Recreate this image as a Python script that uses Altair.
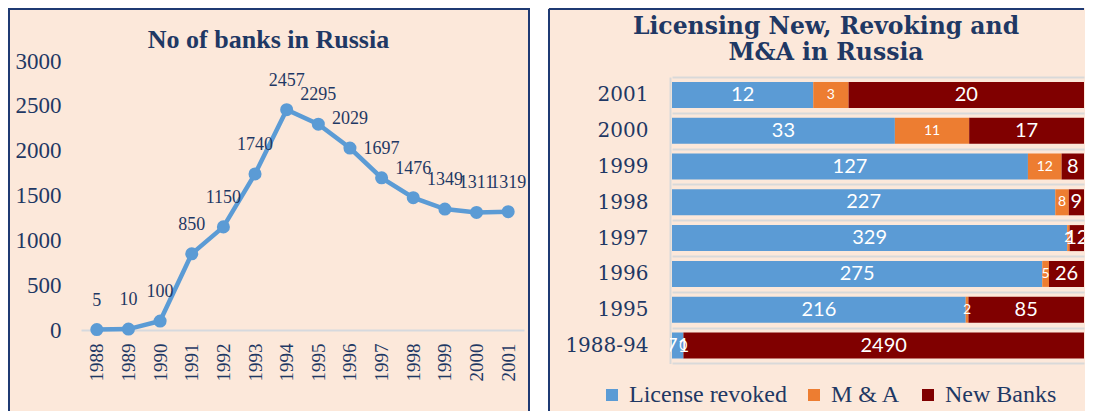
import altair as alt
import pandas as pd

# ---------------- data ----------------
years = ['1988', '1989', '1990', '1991', '1992', '1993', '1994',
         '1995', '1996', '1997', '1998', '1999', '2000', '2001']
banks = [5, 10, 100, 850, 1150, 1740, 2457, 2295, 2029, 1697, 1476, 1349, 1311, 1319]
y_ticks_left = [0, 500, 1000, 1500, 2000, 2500, 3000]

periods = ['2001', '2000', '1999', '1998', '1997', '1996', '1995', '1988-94']
revoked = [12, 33, 127, 227, 329, 275, 216, 71]
mna = [3, 11, 12, 8, 2, 5, 2, 0]
new_banks = [20, 17, 8, 9, 12, 26, 85, 2490]
series = ['License revoked', 'M & A', 'New Banks']
series_colors = ['#5B9BD5', '#ED7D31', '#800000']

title_left = 'No of banks in Russia'
title_right = ['Licensing New, Revoking and', 'M&A in Russia']

# ---------------- style ----------------
PEACH = '#FCE8DA'
NAVY = '#1F3864'
BORDER = '#1F3A73'
GRID = '#D9D9D9'
LINE = '#5B9BD5'

df_line = pd.DataFrame({'year': years, 'banks': banks})
rows = []
for i, p in enumerate(periods):
    for j, vals in enumerate([revoked, mna, new_banks]):
        rows.append({'period': p, 'series': series[j], 'order': j, 'value': vals[i]})
df_bar = pd.DataFrame(rows)
one = pd.DataFrame({'k': [0]})

# ---------------- left panel ----------------
LW, LH = 443, 269

base_l = alt.Chart(df_line).encode(
    x=alt.X('year:O', sort=years, scale=alt.Scale(type='point', padding=0.5),
            axis=alt.Axis(title=None, labelAngle=270, labelFont='Liberation Serif',
                          labelFontSize=19, labelColor=NAVY, labelPadding=13,
                          ticks=False, tickSize=0, domainColor='#D6D9DE', domainWidth=2,
                          grid=False, labelOverlap=False)),
    y=alt.Y('banks:Q', scale=alt.Scale(domain=[0, 3000], nice=False),
            axis=alt.Axis(title=None, values=y_ticks_left, format='d',
                          labelFont='Liberation Serif',
                          labelFontSize=23, labelColor=NAVY, labelPadding=20,
                          ticks=False, tickSize=0, domain=False, grid=False)),
)
line = base_l.mark_line(color=LINE, strokeWidth=4.5)
pts = base_l.mark_circle(color=LINE, size=170, opacity=1)
lbl = base_l.mark_text(font='Liberation Serif', fontSize=18, color=NAVY,
                       baseline='middle', dy=-29).encode(text='banks:Q')

gap = alt.Chart(one).mark_rect(fill='white').encode(
    x=alt.value(449), x2=alt.value(467), y=alt.value(-53), y2=alt.value(370))
border_l = alt.Chart(one).mark_rect(fillOpacity=0, stroke=BORDER, strokeWidth=2).encode(
    x=alt.value(-72), x2=alt.value(448), y=alt.value(-52), y2=alt.value(369))
ttl_l = alt.Chart(one).mark_text(font='Liberation Serif', fontSize=26, fontWeight='bold',
                                 color=NAVY, baseline='middle', align='center').encode(
    x=alt.value(187.5), y=alt.value(-21), text=alt.value(title_left))

left = alt.layer(gap, line, pts, lbl, border_l, ttl_l).properties(width=LW, height=LH)

# ---------------- right panel ----------------
RW, RH = 414, 302

base_r = alt.Chart(df_bar).transform_stack(
    stack='value', groupby=['period'], as_=['v0', 'v1'], offset='normalize',
    sort=[alt.SortField('order', order='ascending')]
).transform_calculate(mid='(datum.v0 + datum.v1) / 2')

y_r = alt.Y('period:N', sort=periods,
            scale=alt.Scale(range=[16, 302.4], paddingInner=0, paddingOuter=0),
            axis=alt.Axis(title=None, labelFont='DejaVu Serif', labelFontSize=20,
                          labelColor=NAVY, labelPadding=22, ticks=False, tickSize=0,
                          domainColor=GRID, domainWidth=2, grid=True, gridColor=GRID,
                          gridWidth=2, tickBand='extent'))
x_scale = alt.Scale(domain=[0, 1], range=[2, 414], nice=False)

bars = base_r.mark_bar(size=26).encode(
    x=alt.X('v0:Q', scale=x_scale, axis=None),
    x2='v1:Q',
    y=y_r,
    color=alt.Color('series:N', sort=series,
                    scale=alt.Scale(domain=series, range=series_colors),
                    legend=alt.Legend(orient='none', legendX=-70, legendY=322,
                                      direction='horizontal', title=None,
                                      symbolType='square', symbolSize=144,
                                      symbolStrokeWidth=0, labelFont='Liberation Serif',
                                      labelFontSize=24, labelColor=NAVY, labelOffset=5,
                                      columnPadding=15, padding=0, labelLimit=400)),
    order=alt.Order('order:Q'),
)
txt_big = base_r.transform_filter(alt.datum.series != 'M & A').mark_text(
    font='Lato', fontSize=20, color='white', baseline='middle', align='center',
    clip=True).encode(
    x=alt.X('mid:Q', scale=x_scale, axis=None), y=alt.Y('period:N', sort=periods),
    text='value:Q')
txt_small = base_r.transform_filter(alt.datum.series == 'M & A').mark_text(
    font='Lato', fontSize=14, color='white', baseline='middle', align='center',
    clip=True).encode(
    x=alt.X('mid:Q', scale=x_scale, axis=None), y=alt.Y('period:N', sort=periods),
    text='value:Q')

edge_left = alt.Chart(one).mark_rule(color=BORDER, strokeWidth=2).encode(
    x=alt.value(-121), y=alt.value(-52), y2=alt.value(369))
edge_top = alt.Chart(one).mark_rule(color=BORDER, strokeWidth=2).encode(
    x=alt.value(-121), x2=alt.value(414), y=alt.value(-52))
ttl_r = alt.Chart(one).mark_text(font='DejaVu Serif', fontSize=23.5, fontWeight='bold',
                                 color=NAVY, baseline='middle', align='center',
                                 lineHeight=26).encode(
    x=alt.value(156), y=alt.value(-34), text=alt.value(title_right))

right = alt.layer(bars, txt_big, txt_small, edge_left, edge_top, ttl_r).properties(
    width=RW, height=RH)

chart = alt.hconcat(left, right, spacing=0).resolve_legend(color='independent').properties(
    padding=0, background=PEACH
).configure_view(strokeWidth=0)

chart.save('out.html', embed_options={'renderer': 'svg', 'actions': False})
